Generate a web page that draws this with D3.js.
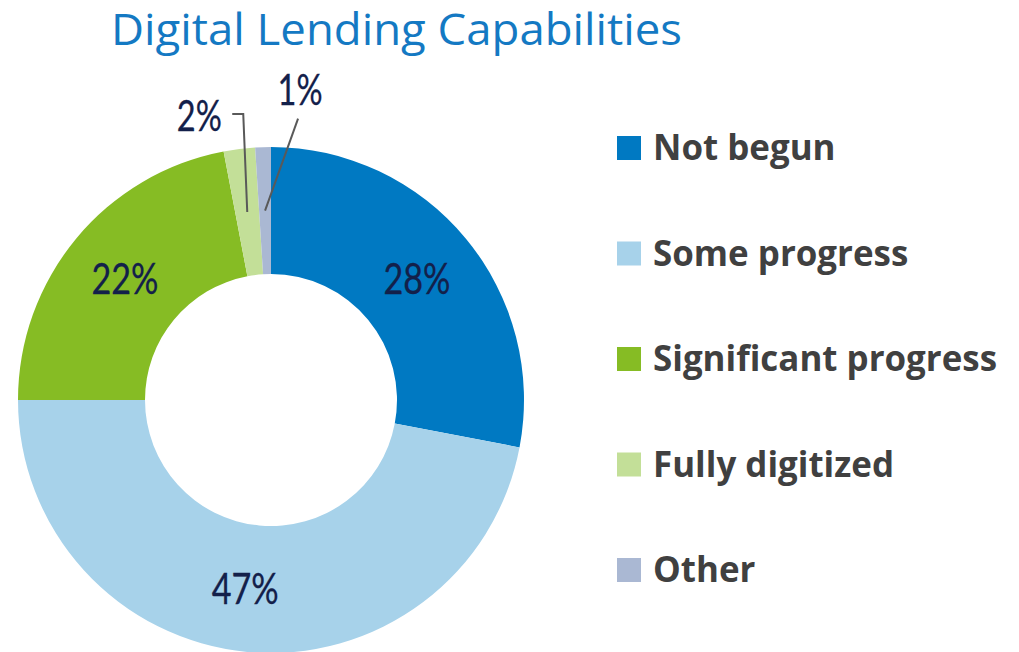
<!DOCTYPE html>
<html>
<head>
<meta charset="utf-8">
<script src="https://cdn.jsdelivr.net/npm/d3@7"></script>
<style>
  html, body { margin: 0; padding: 0; background: #ffffff; }
  svg { display: block; }
</style>
</head>
<body>
<svg id="chart" width="1019" height="652"></svg>
<script>
// Survey shares by stage of lending digitization (percent)
const categories = ["Not begun", "Some progress", "Significant progress", "Fully digitized", "Other"];
const shares = [28, 47, 22, 2, 1];
const sliceColors = ["#0079C2", "#A7D2EA", "#86BC24", "#C3DF98", "#AAB8D3"];
const chartTitle = "Digital Lending Capabilities";

const svg = d3.select("#chart");

const cx = 271, cy = 400;
const outerR = 253, innerR = 126;

// Title
const title = svg.append("text")
  .attr("x", 111).attr("y", 45)
  .attr("font-family", "'Open Sans', 'Noto Sans', sans-serif")
  .attr("font-size", 43)
  .attr("fill", "#1479C3")
  .text(chartTitle);
fitWidth(title, 571);

// Donut
const pie = d3.pie().sort(null).value(d => d)
  .startAngle(0).endAngle(2 * Math.PI);
const arcs = pie(shares);

const arc = d3.arc().innerRadius(innerR).outerRadius(outerR);
const midArc = d3.arc().innerRadius((innerR + outerR) / 2).outerRadius((innerR + outerR) / 2);

const g = svg.append("g").attr("transform", `translate(${cx},${cy})`);

g.selectAll("path.slice")
  .data(arcs)
  .join("path")
  .attr("class", "slice")
  .attr("d", arc)
  .attr("fill", (d, i) => sliceColors[i]);

// Value labels: large slices inside the ring, small slices outside with leaders
const labelFont = "'Lato', 'Open Sans', sans-serif";
const labelColor = "#13204A";
const capHalf = 15;
const smallSlice = 5;

// Horizontal nudge for inside labels
const insideShift = { 1: -8 };

// Outside label placement relative to the slice centroid
const outside = {
  3: { text: [-48, -96], elbow: [-4, -98], start: [-15, -98] },
  4: { text: [35, -121], start: [33, -92] }
};

function styleLabel(t) {
  t.attr("text-anchor", "middle")
    .attr("font-family", labelFont)
    .attr("font-size", 42)
    .attr("fill", labelColor)
    .attr("stroke", labelColor)
    .attr("stroke-width", 0.3);
}

arcs.forEach((d, i) => {
  const [mx, my] = midArc.centroid(d);
  const label = shares[i] + "%";
  if (shares[i] >= smallSlice) {
    const t = g.append("text")
      .attr("x", mx + (insideShift[i] || 0)).attr("y", my + capHalf)
      .text(label);
    styleLabel(t);
    fitWidth(t, 67);
  } else {
    const o = outside[i];
    const pts = [[mx + o.start[0], my + o.start[1]]];
    if (o.elbow) pts.push([mx + o.elbow[0], my + o.elbow[1]]);
    pts.push([mx, my]);
    g.append("path")
      .attr("d", d3.line()(pts))
      .attr("fill", "none")
      .attr("stroke", "#595959")
      .attr("stroke-width", 2);
    const t = g.append("text")
      .attr("x", mx + o.text[0]).attr("y", my + o.text[1] + capHalf)
      .text(label);
    styleLabel(t);
    fitWidth(t, 45);
  }
});

// Legend
const legendX = 617, legendY0 = 148, legendStep = 105.5, swatch = 24;
const legend = svg.append("g");
const items = legend.selectAll("g.item")
  .data(categories)
  .join("g")
  .attr("class", "item")
  .attr("transform", (d, i) => `translate(${legendX},${legendY0 + i * legendStep})`);

items.append("rect")
  .attr("x", 0).attr("y", -swatch / 2)
  .attr("width", swatch).attr("height", swatch)
  .attr("fill", (d, i) => sliceColors[i]);

const legendTexts = items.append("text")
  .attr("x", 36).attr("y", 12)
  .attr("font-family", "'Open Sans', 'Noto Sans', sans-serif")
  .attr("font-weight", "bold")
  .attr("font-size", 35)
  .attr("fill", "#404040")
  .text(d => d);

// Condense legend glyphs uniformly so the longest entry spans its target width
const refNode = legendTexts.nodes()[2];
const k = 344 / refNode.getComputedTextLength();
legendTexts.each(function () {
  const w = this.getComputedTextLength();
  d3.select(this).attr("textLength", w * k).attr("lengthAdjust", "spacingAndGlyphs");
});

function fitWidth(sel, target) {
  sel.attr("textLength", target).attr("lengthAdjust", "spacingAndGlyphs");
}
</script>
</body>
</html>
